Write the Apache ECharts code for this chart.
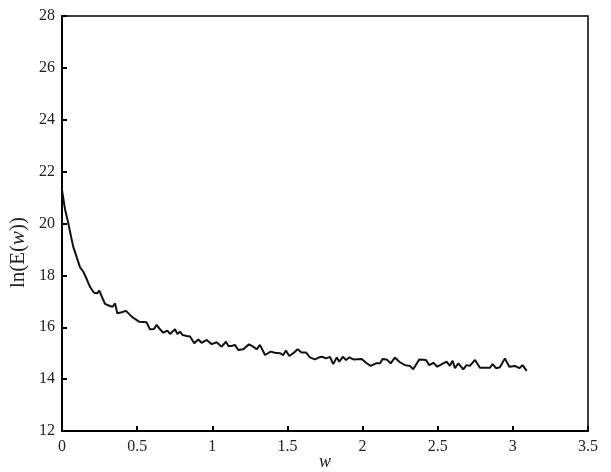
<!DOCTYPE html>
<html>
<head>
<meta charset="utf-8">
<script src="https://cdn.jsdelivr.net/npm/echarts@6/dist/echarts.min.js"></script>
<style>html,body{margin:0;padding:0;background:#fff;}#c{width:611px;height:472px;}</style>
</head>
<body>
<div id="c"></div>
<script>
const wValues = [0.000,0.020,0.042,0.060,0.075,0.095,0.120,0.142,0.165,0.186,0.213,0.235,0.248,0.286,0.319,0.337,0.353,0.368,0.397,0.426,0.464,0.486,0.515,0.563,0.585,0.612,0.630,0.652,0.674,0.701,0.719,0.752,0.768,0.785,0.803,0.830,0.852,0.880,0.907,0.929,0.963,0.996,1.029,1.062,1.091,1.107,1.129,1.151,1.173,1.206,1.244,1.273,1.295,1.317,1.351,1.388,1.417,1.450,1.472,1.490,1.512,1.539,1.568,1.594,1.623,1.650,1.683,1.712,1.734,1.756,1.783,1.805,1.828,1.845,1.868,1.890,1.912,1.939,1.994,2.023,2.054,2.089,2.116,2.134,2.160,2.187,2.215,2.244,2.282,2.315,2.337,2.377,2.422,2.444,2.471,2.497,2.537,2.559,2.581,2.599,2.615,2.637,2.670,2.692,2.714,2.748,2.781,2.821,2.848,2.865,2.888,2.914,2.947,2.976,3.014,3.043,3.065,3.092];
const lnE = [21.30,20.55,20.01,19.50,19.10,18.75,18.31,18.14,17.85,17.56,17.33,17.31,17.41,16.90,16.82,16.79,16.92,16.54,16.58,16.63,16.41,16.32,16.21,16.19,15.92,15.93,16.09,15.92,15.79,15.87,15.74,15.92,15.74,15.83,15.70,15.66,15.64,15.38,15.53,15.40,15.51,15.35,15.42,15.25,15.44,15.28,15.28,15.32,15.12,15.15,15.34,15.25,15.15,15.32,14.93,15.06,15.02,15.00,14.93,15.10,14.89,15.00,15.15,15.03,15.03,14.84,14.76,14.84,14.86,14.80,14.86,14.58,14.84,14.67,14.86,14.74,14.84,14.76,14.78,14.63,14.51,14.61,14.61,14.78,14.76,14.61,14.83,14.67,14.54,14.51,14.38,14.76,14.74,14.54,14.63,14.48,14.61,14.67,14.51,14.71,14.42,14.61,14.38,14.54,14.51,14.74,14.44,14.44,14.44,14.58,14.42,14.46,14.80,14.48,14.51,14.42,14.54,14.32];
const xTicks = [0, 0.5, 1, 1.5, 2, 2.5, 3, 3.5];
const yTicks = [12, 14, 16, 18, 20, 22, 24, 26, 28];

const font = '"Liberation Serif", "DejaVu Serif", serif';
const chart = echarts.init(document.getElementById('c'), null, {renderer: 'canvas'});
const pairs = wValues.map((w, i) => [w, lnE[i]]);
chart.setOption({
  backgroundColor: '#fff',
  animation: false,
  grid: {left: 62, right: 23, top: 16, bottom: 41, outerBoundsMode: 'none', containLabel: false, show: true, borderColor: '#000', borderWidth: 1.5, backgroundColor: 'transparent'},
  xAxis: {
    type: 'value', min: xTicks[0], max: xTicks[xTicks.length - 1], interval: 0.5,
    axisLine: {lineStyle: {color: '#000', width: 2}},
    axisTick: {inside: true, length: 5, lineStyle: {color: '#000', width: 2}},
    axisLabel: {color: '#222', fontFamily: font, fontSize: 16, margin: 8},
    splitLine: {show: false},
    name: 'w', nameLocation: 'middle', nameGap: 22, nameMoveOverlap: false,
    nameTextStyle: {fontFamily: font, fontStyle: 'italic', fontSize: 18, color: '#222'}
  },
  yAxis: {
    type: 'value', min: yTicks[0], max: yTicks[yTicks.length - 1], interval: 2,
    axisLine: {lineStyle: {color: '#000', width: 2}},
    axisTick: {inside: true, length: 5, lineStyle: {color: '#000', width: 2}},
    axisLabel: {color: '#222', fontFamily: font, fontSize: 16, margin: 7},
    splitLine: {show: false},
    name: '{n|ln(E(}{i|w}{n|))}', nameLocation: 'middle', nameGap: 33, nameMoveOverlap: false,
    nameTextStyle: {
      padding: [0, 58, 0, 0],
      rich: {
        n: {fontFamily: font, fontSize: 21, color: '#222'},
        i: {fontFamily: font, fontSize: 21, fontStyle: 'italic', color: '#222'}
      }
    }
  },
  series: [{
    type: 'line', data: pairs, showSymbol: false, symbol: 'none',
    lineStyle: {color: '#111', width: 2}
  }]
});
</script>
</body>
</html>
